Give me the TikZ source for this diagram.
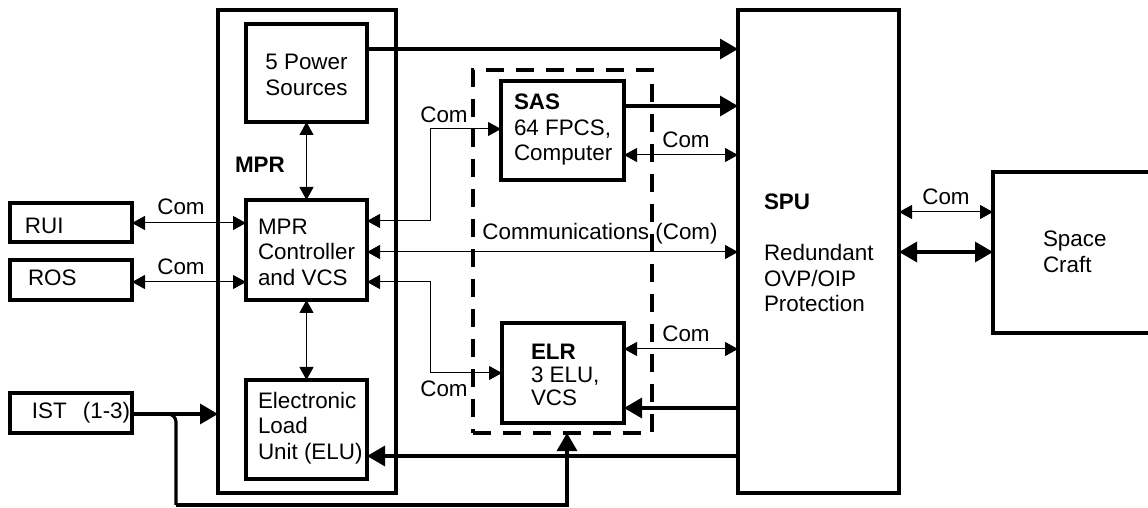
\documentclass[tikz,border=0pt]{standalone}
\usepackage{fontspec}
\setmainfont{Liberation Sans}
\usetikzlibrary{fit,arrows.meta}
\begin{document}
\begin{tikzpicture}[x=0.5pt,y=-0.5pt,
  every node/.style={font=\fontsize{11.2pt}{12.75pt}\selectfont, inner sep=0pt, outer sep=0pt},
  box/.style={draw, line width=1.6pt, inner sep=0pt, outer sep=0pt},
  grpbox/.style={draw, line width=1.6pt, dash pattern=on 9pt off 6pt, inner sep=0pt, outer sep=0pt},
  txt/.style={anchor=west, align=left},
  thinarr/.style={line width=0.5pt, {Triangle[length=6.5pt,width=7pt]}-{Triangle[length=6.5pt,width=7pt]}},
  thickarr/.style={line width=1.6pt, -{Triangle[length=9pt,width=10pt]}},
  thickboth/.style={line width=1.6pt, {Triangle[length=9pt,width=10pt]}-{Triangle[length=9pt,width=10pt]}},
]
\useasboundingbox (0,0) rectangle (1148,508);
\clip (0,0) rectangle (1148,508);

% boxes
\node[box, fit={(218,10) (396,493)}] (mpr) {};
\node[box, fit={(246,24) (367,122)}] (ps) {};
\node[box, fit={(246,200) (367,300)}] (ctrl) {};
\node[box, fit={(246,380) (367,479)}] (elu) {};
\node[box, fit={(10,203) (132,242)}] (rui) {};
\node[box, fit={(10,260) (132,300)}] (ros) {};
\node[box, fit={(10,393) (132,433)}] (ist) {};
\node[grpbox, fit={(473,70) (652,433)}] (grp) {};
\node[box, fit={(501,81) (624,180)}] (sas) {};
\node[box, fit={(502,323) (624,423)}] (elr) {};
\node[box, fit={(738,10) (899,493)}] (spu) {};
\node[box, fit={(993,172) (1170,333)}] (sc) {};

% texts
\node[align=center] (pst) at (306.5,75) {5 Power\\Sources};
\node[txt] (mprt) at (235,165) {\textbf{MPR}};
\node[txt] (ctrlt) at (258,252) {MPR\\Controller\\and VCS};
\node[txt] (elut) at (258,428) {Electronic\\Load\\Unit (ELU)};
\node[txt] (sast) at (514,130) {\textbf{SAS}\\64 FPCS,\\Computer};
\node[txt, font=\fontsize{11.2pt}{11.3pt}\selectfont] (elrt) at (531,375) {\textbf{ELR}\\3 ELU,\\VCS};
\node[txt] (sput) at (764,202) {\textbf{SPU}};
\node[txt] (spud) at (764,278) {Redundant\\OVP/OIP\\Protection};
\node[txt] (sct) at (1043,252) {Space\\Craft};
\node[txt] (ruit) at (25,226) {RUI};
\node[txt] (rost) at (28,278) {ROS};
\node[txt] (istt) at (32,413) {IST\hspace{8pt}(1-3)};

% labels
\node (l1) at (181,207) {Com};
\node (l2) at (181,267) {Com};
\node (l3) at (444,115) {Com};
\node (l4) at (686,140) {Com};
\node (l5) at (600,234) {Communications (Com)};
\node (l6) at (686,334) {Com};
\node (l7) at (444,389) {Com};
\node (l8) at (946,197) {Com};

% connectors
\draw[thickarr] (ps.east |- 0,49) -- (spu.west |- 0,49);
\draw[thickarr] (sas.east |- 0,106) -- (spu.west |- 0,106);
\draw[thinarr] (sas.east |- 0,155) -- (spu.west |- 0,155);
\draw[thinarr] (ctrl.east |- 0,221) -| (430,129) -- (sas.west |- 0,129);
\draw[thinarr] (ctrl.east |- 0,282) -| (430,373) -- (elr.west |- 0,373);
\draw[thinarr] (ctrl.east |- 0,252) -- (spu.west |- 0,252);
\draw[thinarr] (elr.east |- 0,349) -- (spu.west |- 0,349);
\draw[thickarr] (spu.west |- 0,408) -- (elr.east |- 0,408);
\draw[thickarr] (spu.west |- 0,456) -- (elu.east |- 0,456);
\draw[thinarr] (ps.south) -- (ctrl.north);
\draw[thinarr] (ctrl.south) -- (elu.north);
\draw[thinarr] (rui.east |- 0,223) -- (ctrl.west |- 0,223);
\draw[thinarr] (ros.east |- 0,282) -- (ctrl.west |- 0,282);
\draw[thickarr] (ist.east |- 0,414) -- (mpr.west |- 0,414);
\draw[line width=1.6pt, rounded corners=4pt] (ist.east |- 0,414) -| (176,505);
\draw[thickarr] (176,505) -| (grp.south -| 567,0);
\draw[thinarr] (spu.east |- 0,212) -- (sc.west |- 0,212);
\draw[thickboth] (spu.east |- 0,252) -- (sc.west |- 0,252);
\end{tikzpicture}
\end{document}
